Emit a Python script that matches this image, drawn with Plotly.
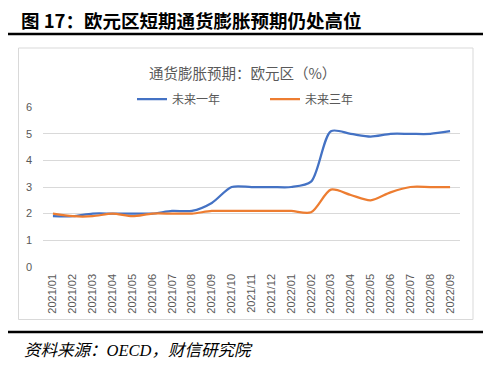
import plotly.graph_objects as go

months = ["2021/01", "2021/02", "2021/03", "2021/04", "2021/05", "2021/06", "2021/07",
          "2021/08", "2021/09", "2021/10", "2021/11", "2021/12", "2022/01", "2022/02",
          "2022/03", "2022/04", "2022/05", "2022/06", "2022/07", "2022/08", "2022/09"]
one_year = [1.9, 1.9, 2.0, 2.0, 2.0, 2.0, 2.1, 2.1, 2.4, 3.0, 3.0, 3.0, 3.0, 3.2,
            5.1, 5.0, 4.9, 5.0, 5.0, 5.0, 5.1]
three_year = [2.0, 1.9, 1.9, 2.0, 1.9, 2.0, 2.0, 2.0, 2.1, 2.1, 2.1, 2.1, 2.1, 2.05,
              2.9, 2.7, 2.5, 2.8, 3.0, 3.0, 3.0]
series_names = ["未来一年", "未来三年"]
y_ticks = [0, 1, 2, 3, 4, 5, 6]

# page body has an 8px margin; the figure is sized/offset to compensate
OFF = 8
FW, FH = 492, 357
CJK = "Noto Sans CJK SC"
GRAY = "#595959"


def px(x):
    return (x - OFF) / FW


def py(y):
    return 1 - (y - OFF) / FH


fig = go.Figure()
fig.add_trace(go.Scatter(x=months, y=one_year, name=series_names[0], mode="lines",
                         line=dict(color="#4472C4", width=2.25, shape="spline", smoothing=0.8)))
fig.add_trace(go.Scatter(x=months, y=three_year, name=series_names[1], mode="lines",
                         line=dict(color="#ED7D31", width=2.25, shape="spline", smoothing=0.8)))

fig.update_layout(
    width=FW, height=FH,
    margin=dict(l=0, r=0, t=0, b=0, pad=0, autoexpand=False),
    paper_bgcolor="white", plot_bgcolor="white",
    font=dict(family=CJK, color=GRAY, size=11),
    showlegend=True,
    legend=dict(orientation="h", x=px(132), xanchor="left", y=py(99), yanchor="middle",
                entrywidth=88, entrywidthmode="pixels",
                font=dict(size=12, color=GRAY, family=CJK), bgcolor="rgba(0,0,0,0)",
                itemwidth=30, tracegroupgap=0),
    xaxis=dict(type="category", range=[-0.5, len(months) - 0.5], tickangle=-90,
               domain=[px(43), px(460)], automargin=False,
               showgrid=False, showline=False, ticks="", zeroline=False,
               tickfont=dict(size=11, color=GRAY, family="Liberation Sans"),
               ticklabelstandoff=4),
    yaxis=dict(range=[0, 6], tickvals=y_ticks, showgrid=True, gridcolor="#D9D9D9",
               domain=[py(266.7), py(107.3)], automargin=False,
               gridwidth=1, zeroline=False, showline=False, ticks="",
               tickfont=dict(size=11, color=GRAY, family="Liberation Sans"),
               ticklabelstandoff=10),
    shapes=[
        dict(type="line", xref="paper", yref="paper", x0=px(8), x1=px(483),
             y0=py(34), y1=py(34), line=dict(color="black", width=2.5)),
        dict(type="line", xref="paper", yref="paper", x0=px(8), x1=px(483),
             y0=py(332), y1=py(332), line=dict(color="black", width=2.5)),
        dict(type="rect", xref="paper", yref="paper", x0=px(18.5), x1=px(473),
             y0=py(319.5), y1=py(48), line=dict(color="#D9D9D9", width=1)),
    ],
    annotations=[
        dict(text="<b>图 17：欧元区短期通货膨胀预期仍处高位</b>", x=px(19), y=py(20),
             xref="paper", yref="paper", xanchor="left", yanchor="middle", showarrow=False,
             font=dict(size=18.5, color="black", family=CJK)),
        dict(text="通货膨胀预期：欧元区（%）", x=px(242), y=py(72),
             xref="paper", yref="paper", xanchor="center", yanchor="middle", showarrow=False,
             font=dict(size=14.5, color=GRAY, family=CJK)),
        dict(text="<i>资料来源：OECD，财信研究院</i>", x=px(22), y=py(350),
             xref="paper", yref="paper", xanchor="left", yanchor="middle", showarrow=False,
             font=dict(size=16.5, color="black", family="Liberation Serif, " + CJK)),
    ],
)

fig.write_html("out.html")
